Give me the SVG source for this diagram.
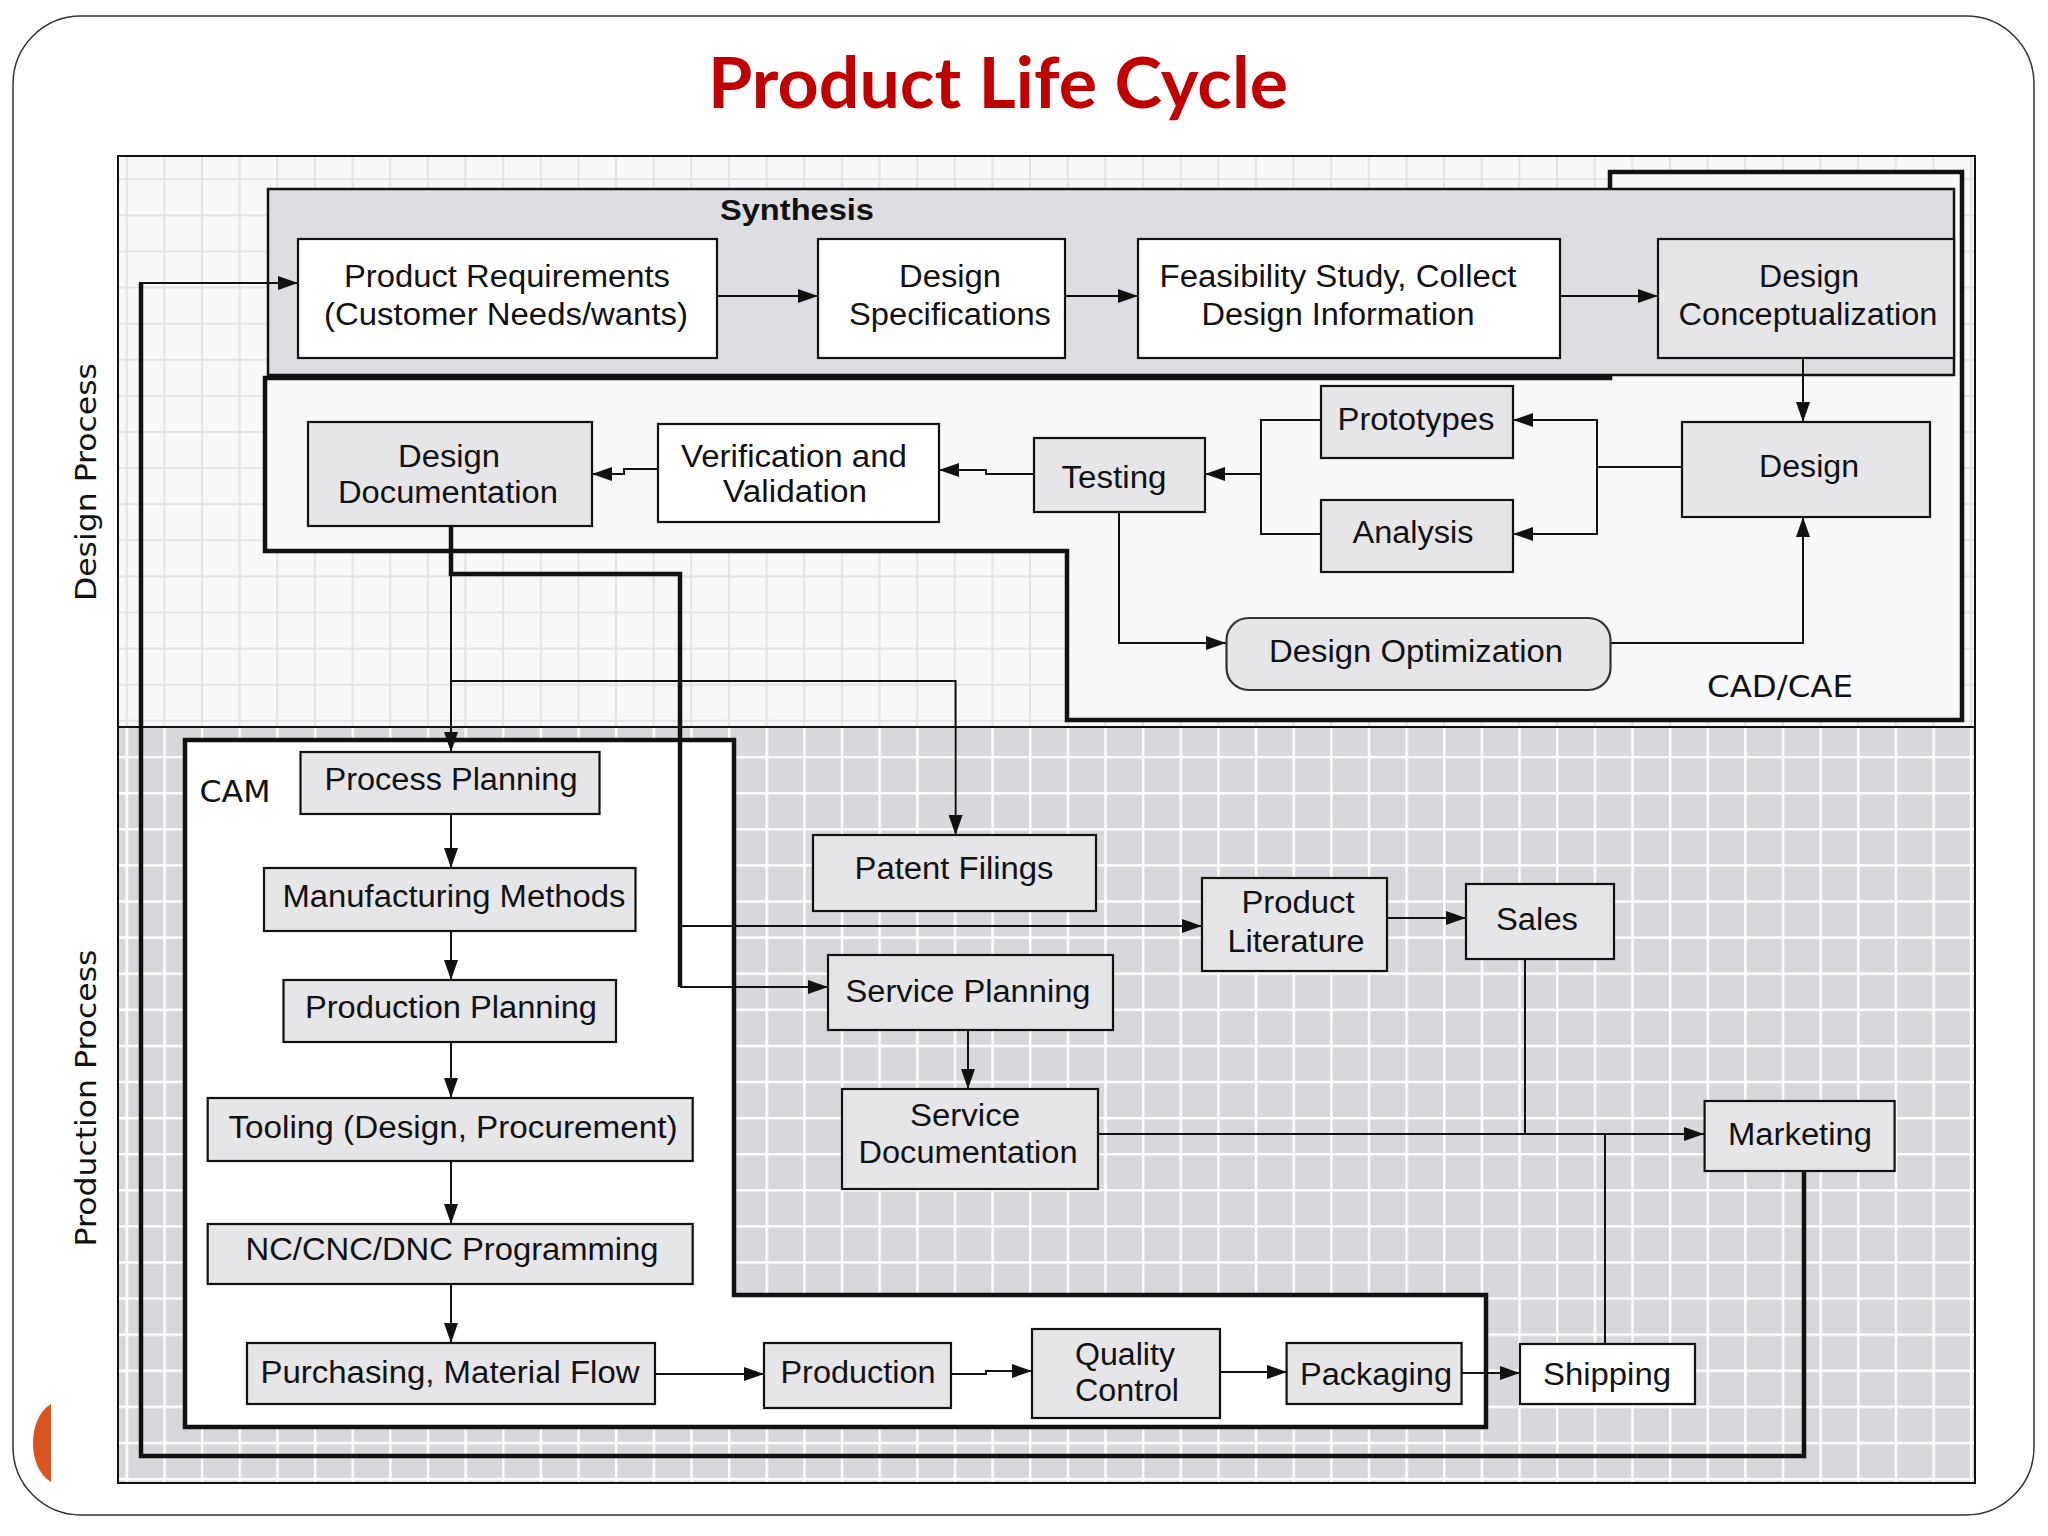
<svg xmlns="http://www.w3.org/2000/svg" width="2048" height="1536" viewBox="0 0 2048 1536">
<defs>
<style>
.box{stroke:#111;stroke-width:2.2}
.g{fill:#E6E6E9}
.w{fill:#FFFFFF}
.t{font-family:"Liberation Sans",Arial,sans-serif;font-size:31px;fill:#111;text-anchor:middle}
.lbl{font-family:"DejaVu Sans",Verdana,sans-serif;fill:#111}
.c{fill:none;stroke:#111;stroke-width:2}
.a{marker-end:url(#arr)}
.thick{stroke-width:4.5}
</style>
<marker id="arr" markerUnits="userSpaceOnUse" markerWidth="20" markerHeight="14" viewBox="0 0 20 14" refX="20" refY="7" orient="auto">
<path d="M0,0 L20,7 L0,14 Z" fill="#111"/>
</marker>
<pattern id="gridU" patternUnits="userSpaceOnUse" x="125.7" y="178.3" width="37.64" height="36.1">
<rect width="37.64" height="36.1" fill="#F8F8FA"/>
<path d="M1,0 V36.1 M0,1 H37.64" stroke="#E3E3E6" stroke-width="2"/>
</pattern>
<pattern id="gridL" patternUnits="userSpaceOnUse" x="125.7" y="178.3" width="37.64" height="36.1">
<rect width="37.64" height="36.1" fill="#D8D8DC"/>
<path d="M1.2,0 V36.1 M0,1.2 H37.64" stroke="#FFFFFF" stroke-width="2.4"/>
</pattern>
</defs>

<rect width="2048" height="1536" fill="#FFFFFF"/>
<!-- slide frame -->
<rect x="13" y="16" width="2021" height="1499" rx="68" ry="68" fill="none" stroke="#333" stroke-width="1.5"/>
<path d="M51,1404 C38,1412 33,1428 33,1443 C33,1458 38,1474 51,1482 Z" fill="#D9541E"/>

<text x="998" y="108" font-family="Lato,'Open Sans',sans-serif" font-weight="bold" font-size="70" fill="#C00000" text-anchor="middle" textLength="580" lengthAdjust="spacingAndGlyphs">Product Life Cycle</text>

<!-- regions -->
<g id="regions">
<rect x="118" y="156" width="1857" height="571" fill="url(#gridU)"/>
<rect x="118" y="727" width="1857" height="756" fill="url(#gridL)"/>
<rect x="118" y="156" width="1857" height="1327" fill="none" stroke="#111" stroke-width="2"/>
<line x1="118" y1="727" x2="1975" y2="727" stroke="#111" stroke-width="2"/>
<text class="lbl" transform="translate(96,482) rotate(-90)" font-size="29" text-anchor="middle" textLength="238" lengthAdjust="spacingAndGlyphs">Design Process</text>
<text class="lbl" transform="translate(96,1098) rotate(-90)" font-size="29" text-anchor="middle" textLength="297" lengthAdjust="spacingAndGlyphs">Production Process</text>
</g>

<g id="cadcae">
<path d="M265,378 H1610 V172 H1962 V720 H1067 V551 H265 Z" fill="#F8F7FA" stroke="#111" stroke-width="4.5"/>
<text class="lbl" x="1780" y="697" font-size="30" text-anchor="middle" textLength="146" lengthAdjust="spacingAndGlyphs">CAD/CAE</text>
</g>

<g id="synthesis">
<rect x="268" y="189" width="1686" height="186" fill="#DEDDE1" stroke="#111" stroke-width="2.5"/>
<text x="797" y="220" font-family="'Liberation Sans',Arial,sans-serif" font-weight="bold" font-size="30" fill="#111" text-anchor="middle" textLength="154" lengthAdjust="spacingAndGlyphs">Synthesis</text>
</g>

<g id="cam">
<path d="M185,740 H734 V1295 H1486 V1427 H185 Z" fill="#FFFFFF" stroke="#111" stroke-width="4.5"/>
<text class="lbl" x="235" y="802" font-size="31" text-anchor="middle" textLength="71" lengthAdjust="spacingAndGlyphs">CAM</text>
</g>

<!-- connectors -->
<g id="connectors">
<path class="c a" d="M717,296 H818"/>
<path class="c a" d="M1065,296 H1138"/>
<path class="c a" d="M1560,296 H1658"/>
<path class="c a" d="M1803,358 V422"/>
<path class="c" d="M1682,467 H1597"/>
<path class="c a" d="M1597,467 V420 H1513"/>
<path class="c a" d="M1597,467 V534 H1513"/>
<path class="c" d="M1321,420 H1261 V534 H1321"/>
<path class="c a" d="M1261,474 H1205"/>
<path class="c a" d="M1034,474 H986 V470 H939"/>
<path class="c a" d="M658,469 H624 V474 H592"/>
<path class="c a" d="M1119,512 V643 H1226"/>
<path class="c a" d="M1610,643 H1803 V517"/>
<path class="c a" d="M451,574 V752"/>
<path class="c a" d="M451,681 H955.6 V835"/>
<path class="c thick" d="M451,526 V574 H680 V987"/>
<path class="c a" d="M680,987 H828"/>
<path class="c a" d="M680,926 H1202"/>
<path class="c a" d="M451,814 V868"/>
<path class="c a" d="M451,931 V980"/>
<path class="c a" d="M451,1042 V1098"/>
<path class="c a" d="M451,1161 V1224"/>
<path class="c a" d="M451,1284 V1343"/>
<path class="c a" d="M655,1374 H764"/>
<path class="c a" d="M951,1374 H986 V1371 H1032"/>
<path class="c a" d="M1220,1372 H1287"/>
<path class="c a" d="M1462,1373 H1520"/>
<path class="c" d="M1605,1344 V1134"/>
<path class="c" d="M1525,959 V1134"/>
<path class="c a" d="M1098,1134 H1704"/>
<path class="c a" d="M968,1030 V1089"/>
<path class="c a" d="M1387,918 H1466"/>
<path class="c thick" d="M1804,1171 V1456 H141 V283"/>
<path class="c a" d="M139,283 H298"/>
</g>

<!-- nodes -->
<g id="n_req"><rect class="box w" x="298" y="239" width="419" height="119"/>
<text class="t" x="507" y="287" textLength="326" lengthAdjust="spacingAndGlyphs">Product Requirements</text>
<text class="t" x="506" y="325" textLength="364" lengthAdjust="spacingAndGlyphs">(Customer Needs/wants)</text></g>

<g id="n_spec"><rect class="box w" x="818" y="239" width="247" height="119"/>
<text class="t" x="950" y="287" textLength="102" lengthAdjust="spacingAndGlyphs">Design</text>
<text class="t" x="950" y="325" textLength="202" lengthAdjust="spacingAndGlyphs">Specifications</text></g>

<g id="n_feas"><rect class="box w" x="1138" y="239" width="422" height="119"/>
<text class="t" x="1338" y="287" textLength="357" lengthAdjust="spacingAndGlyphs">Feasibility Study, Collect</text>
<text class="t" x="1338" y="325" textLength="273" lengthAdjust="spacingAndGlyphs">Design Information</text></g>

<g id="n_concept"><rect class="box g" x="1658" y="239" width="296" height="119"/>
<text class="t" x="1809" y="287" textLength="100" lengthAdjust="spacingAndGlyphs">Design</text>
<text class="t" x="1808" y="325" textLength="259" lengthAdjust="spacingAndGlyphs">Conceptualization</text></g>

<g id="n_design"><rect class="box g" x="1682" y="422" width="248" height="95"/>
<text class="t" x="1809" y="477" textLength="100" lengthAdjust="spacingAndGlyphs">Design</text></g>

<g id="n_proto"><rect class="box g" x="1321" y="386" width="192" height="72"/>
<text class="t" x="1416" y="430" textLength="157" lengthAdjust="spacingAndGlyphs">Prototypes</text></g>

<g id="n_analysis"><rect class="box g" x="1321" y="500" width="192" height="72"/>
<text class="t" x="1413" y="543" textLength="121" lengthAdjust="spacingAndGlyphs">Analysis</text></g>

<g id="n_testing"><rect class="box g" x="1034" y="438" width="171" height="74"/>
<text class="t" x="1114" y="488" textLength="105" lengthAdjust="spacingAndGlyphs">Testing</text></g>

<g id="n_vv"><rect class="box w" x="658" y="424" width="281" height="98"/>
<text class="t" x="794" y="467" textLength="226" lengthAdjust="spacingAndGlyphs">Verification and</text>
<text class="t" x="795" y="502" textLength="144" lengthAdjust="spacingAndGlyphs">Validation</text></g>

<g id="n_doc"><rect class="box g" x="308" y="422" width="284" height="104"/>
<text class="t" x="449" y="467" textLength="102" lengthAdjust="spacingAndGlyphs">Design</text>
<text class="t" x="448" y="503" textLength="220" lengthAdjust="spacingAndGlyphs">Documentation</text></g>

<g id="n_opt"><rect x="1226.5" y="618" width="384" height="72" rx="22" ry="22" fill="#E6E6E9" stroke="#333" stroke-width="2.2"/>
<text class="t" x="1416" y="662" textLength="294" lengthAdjust="spacingAndGlyphs">Design Optimization</text></g>

<g id="n_pp"><rect class="box g" x="300.5" y="752" width="299" height="62"/>
<text class="t" x="451" y="790" textLength="253" lengthAdjust="spacingAndGlyphs">Process Planning</text></g>

<g id="n_mm"><rect class="box g" x="264" y="868" width="371.5" height="63"/>
<text class="t" x="454" y="907" textLength="343" lengthAdjust="spacingAndGlyphs">Manufacturing Methods</text></g>

<g id="n_prodp"><rect class="box g" x="283.5" y="980" width="332.5" height="62"/>
<text class="t" x="451" y="1018" textLength="292" lengthAdjust="spacingAndGlyphs">Production Planning</text></g>

<g id="n_tool"><rect class="box g" x="207.7" y="1098" width="485" height="63"/>
<text class="t" x="453" y="1138" textLength="449" lengthAdjust="spacingAndGlyphs">Tooling (Design, Procurement)</text></g>

<g id="n_nc"><rect class="box g" x="207.7" y="1224" width="485" height="60"/>
<text class="t" x="452" y="1260" textLength="413" lengthAdjust="spacingAndGlyphs">NC/CNC/DNC Programming</text></g>

<g id="n_purch"><rect class="box g" x="247" y="1343" width="408" height="61"/>
<text class="t" x="450" y="1383" textLength="379" lengthAdjust="spacingAndGlyphs">Purchasing, Material Flow</text></g>

<g id="n_prod"><rect class="box g" x="764" y="1343" width="187" height="65"/>
<text class="t" x="858" y="1383" textLength="155" lengthAdjust="spacingAndGlyphs">Production</text></g>

<g id="n_qc"><rect class="box g" x="1032" y="1329" width="188" height="89"/>
<text class="t" x="1125" y="1365" textLength="100" lengthAdjust="spacingAndGlyphs">Quality</text>
<text class="t" x="1127" y="1401" textLength="104" lengthAdjust="spacingAndGlyphs">Control</text></g>

<g id="n_pack"><rect class="box g" x="1286.6" y="1343" width="175" height="61"/>
<text class="t" x="1376" y="1385" textLength="152" lengthAdjust="spacingAndGlyphs">Packaging</text></g>

<g id="n_ship"><rect class="box w" x="1520" y="1344" width="175" height="60"/>
<text class="t" x="1607" y="1385" textLength="128" lengthAdjust="spacingAndGlyphs">Shipping</text></g>

<g id="n_mkt"><rect class="box g" x="1704.6" y="1101" width="190" height="70"/>
<text class="t" x="1800" y="1145" textLength="144" lengthAdjust="spacingAndGlyphs">Marketing</text></g>

<g id="n_patent"><rect class="box g" x="813" y="835" width="283" height="76"/>
<text class="t" x="954" y="879" textLength="199" lengthAdjust="spacingAndGlyphs">Patent Filings</text></g>

<g id="n_lit"><rect class="box g" x="1202" y="878" width="185" height="93"/>
<text class="t" x="1298" y="913" textLength="113" lengthAdjust="spacingAndGlyphs">Product</text>
<text class="t" x="1296" y="952" textLength="137" lengthAdjust="spacingAndGlyphs">Literature</text></g>

<g id="n_sales"><rect class="box g" x="1466" y="884" width="148" height="75"/>
<text class="t" x="1537" y="930" textLength="82" lengthAdjust="spacingAndGlyphs">Sales</text></g>

<g id="n_svcp"><rect class="box g" x="828" y="955" width="285" height="75"/>
<text class="t" x="968" y="1002" textLength="245" lengthAdjust="spacingAndGlyphs">Service Planning</text></g>

<g id="n_svcd"><rect class="box g" x="842" y="1089" width="256" height="100"/>
<text class="t" x="965" y="1126" textLength="110" lengthAdjust="spacingAndGlyphs">Service</text>
<text class="t" x="968" y="1163" textLength="219" lengthAdjust="spacingAndGlyphs">Documentation</text></g>
</svg>
